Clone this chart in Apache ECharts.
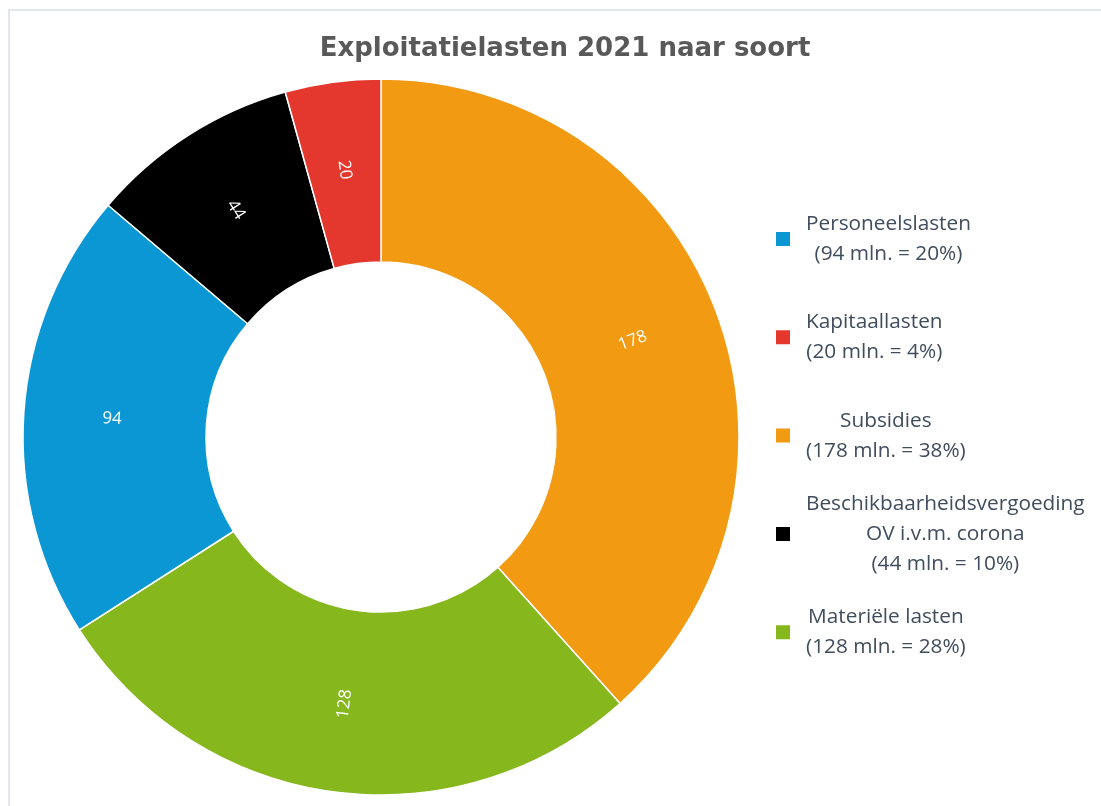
<!DOCTYPE html>
<html>
<head>
<meta charset="utf-8">
<script src="https://cdn.jsdelivr.net/npm/echarts@6/dist/echarts.min.js"></script>
<style>
  html, body { margin: 0; padding: 0; background: #fff; }
  #main { width: 1101px; height: 806px; }
</style>
</head>
<body>
<div id="main"></div>
<script>
// volgorde van de ring, met de klok mee vanaf boven
var soorten = ['Subsidies', 'Materiële lasten', 'Personeelslasten', 'Beschikbaarheidsvergoeding\nOV i.v.m. corona', 'Kapitaallasten'];
var bedragen = [178, 128, 94, 44, 20];
var kleuren = ['#f29a12', '#86b71d', '#0a97d4', '#000000', '#e4372e'];

// legenda: volgorde en percentages zoals in de bron
var legendaVolgorde = ['Personeelslasten', 'Kapitaallasten', 'Subsidies', 'Beschikbaarheidsvergoeding\nOV i.v.m. corona', 'Materiële lasten'];
var percentages = [20, 4, 38, 10, 28];

var chart = echarts.init(document.getElementById('main'));

var regelHoogte = 30;
var legends = legendaVolgorde.map(function (naam, i) {
  var bedrag = bedragen[soorten.indexOf(naam)];
  var regels = naam.split('\n').concat('(' + bedrag + ' mln. = ' + percentages[i] + '%)');
  var midden = 239 + i * 98.3;
  return {
    data: [naam],
    orient: 'vertical',
    left: 774,
    top: midden - regels.length * regelHoogte / 2,
    padding: 0,
    itemWidth: 16,
    itemHeight: 16,
    icon: 'rect',
    selectedMode: false,
    formatter: function () {
      return regels.map(function (r) { return '{c|' + r + '}'; }).join('\n');
    },
    textStyle: {
      padding: [0, 0, 0, 10],
      lineHeight: regelHoogte,
      rich: {
        c: { align: 'center', fontSize: 20.8, lineHeight: regelHoogte, color: '#414c5c', fontFamily: 'Open Sans' }
      }
    }
  };
});

chart.setOption({
  color: kleuren,
  title: {
    text: 'Exploitatielasten 2021 naar soort',
    left: 560,
    top: 31,
    textAlign: 'center',
    textStyle: { fontFamily: 'DejaVu Sans', fontSize: 26, fontWeight: 'bold', color: '#595959' }
  },
  legend: legends,
  graphic: [{
    type: 'rect',
    shape: { x: 9, y: 10, width: 1200, height: 900 },
    style: { fill: 'none', stroke: '#e3e7ed', lineWidth: 2 },
    silent: true
  }],
  series: [{
    type: 'pie',
    center: [381, 437],
    radius: [175, 358],
    startAngle: 90,
    clockwise: true,
    animation: false,
    itemStyle: { borderColor: '#fff', borderWidth: 1.5 },
    label: {
      position: 'inside',
      rotate: 'radial',
      formatter: '{c}',
      color: '#fff',
      fontSize: 17,
      fontFamily: 'Open Sans'
    },
    labelLine: { show: false },
    data: soorten.map(function (s, i) { return { name: s, value: bedragen[i] }; })
  }]
});
</script>
</body>
</html>
